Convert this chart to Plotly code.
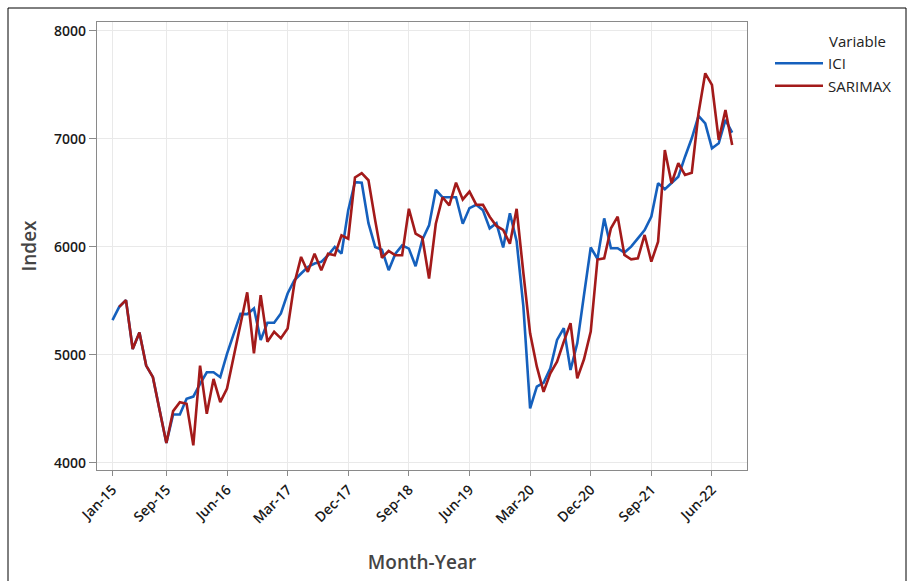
import pandas as pd
import plotly.graph_objects as go

# Monthly index values, Jan-2015 .. Sep-2022
months = pd.date_range("2015-01-01", "2022-09-01", freq="MS").strftime("%b-%y").tolist()

ici = [
    5323, 5446, 5508, 5055, 5209, 4902, 4794, 4486, 4185, 4449,
    4449, 4594, 4615, 4732, 4840, 4840, 4794, 5010, 5200, 5380,
    5378, 5431, 5138, 5298, 5298, 5385, 5569, 5692, 5754, 5815,
    5846, 5862, 5923, 6000, 5938, 6340, 6600, 6595, 6220, 6000,
    5975, 5785, 5938, 6015, 5985, 5822, 6068, 6200, 6529, 6460,
    6460, 6460, 6215, 6360, 6390, 6340, 6172, 6220, 5995, 6312,
    6053, 5449, 4505, 4706, 4743, 4876, 5139, 5248, 4861, 5108,
    5555, 5995, 5890, 6265, 5988, 5988, 5948, 6003, 6080, 6157,
    6281, 6590, 6534, 6590, 6651, 6836, 7006, 7213, 7145, 6914,
    6960, 7176, 7059,
]

sarimax = [
    None, 5446, 5508, 5055, 5209, 4902, 4794, 4486, 4185, 4480,
    4563, 4548, 4163, 4902, 4455, 4778, 4563, 4690, 4990, 5280,
    5580, 5015, 5554, 5123, 5215, 5154, 5246, 5662, 5908, 5769,
    5938, 5785, 5938, 5923, 6108, 6077, 6643, 6683, 6618, 6246,
    5900, 5963, 5923, 5923, 6354, 6123, 6086, 5708, 6215, 6460,
    6385, 6595, 6440, 6512, 6392, 6390, 6280, 6195, 6158, 6030,
    6353, 5759, 5201, 4892, 4659, 4830, 4938, 5124, 5294, 4783,
    4960, 5216, 5884, 5895, 6173, 6281, 5926, 5886, 5895, 6111,
    5864, 6049, 6898, 6590, 6775, 6667, 6688, 7238, 7608, 7500,
    6991, 7269, 6944,
]

tick_labels = ["Jan-15", "Sep-15", "Jun-16", "Mar-17", "Dec-17", "Sep-18",
               "Jun-19", "Mar-20", "Dec-20", "Sep-21", "Jun-22"]
y_ticks = [4000, 5000, 6000, 7000, 8000]

BLUE = "#1560BD"
RED = "#A31A1A"
FONT = "Open Sans"

fig = go.Figure()
fig.add_trace(go.Scatter(x=months, y=ici, mode="lines", name="ICI",
                         line=dict(color=BLUE, width=2.6)))
fig.add_trace(go.Scatter(x=months, y=sarimax, mode="lines", name="SARIMAX",
                         line=dict(color=RED, width=2.6)))

L, R, T, B = 97, 161, 22, 111
W, H = 908, 581
pw, ph = W - L - R, H - T - B

def px(x):
    return (x - L) / pw

def py(y):
    return (H - B - y) / ph

axis_common = dict(
    showline=True, linecolor="#8a8a8a", linewidth=1.3, mirror=True,
    showgrid=True, gridcolor="#e9e9e9", gridwidth=1,
    ticks="outside", tickcolor="#8a8a8a", tickwidth=1,
    zeroline=False,
)

fig.update_layout(
    width=W, height=H,
    margin=dict(l=L, r=R, t=T, b=B, autoexpand=False),
    paper_bgcolor="white", plot_bgcolor="white",
    font=dict(family=FONT, color="#222"),
    xaxis=dict(
        type="category", range=[-2.3, 94.2],
        tickvals=tick_labels, ticktext=tick_labels, tickangle=-45, ticklen=5,
        tickfont=dict(size=14, color="#1a1a1a", family=FONT, weight=600),
        title=dict(text="Month-Year", font=dict(size=19, color="#444", family=FONT, weight=600),
                   standoff=29),
        **axis_common,
    ),
    yaxis=dict(
        range=[3935, 8083], tickvals=y_ticks, ticklen=7,
        tickfont=dict(size=14, color="#1a1a1a", family=FONT, weight=600),
        title=dict(text="Index", font=dict(size=19, color="#444", family=FONT, weight=600),
                   standoff=12),
        **axis_common,
    ),
    legend=dict(
        x=px(770), y=py(47), xanchor="left", yanchor="top",
        font=dict(size=15, color="#222", family=FONT),
        bgcolor="rgba(0,0,0,0)", tracegroupgap=0, itemwidth=48,
    ),
    annotations=[dict(
        text="Variable", xref="paper", yref="paper", x=px(827), y=py(41),
        xanchor="left", yanchor="middle", showarrow=False,
        font=dict(size=15, color="#222", family=FONT),
    )],
    shapes=[dict(
        type="rect", xref="paper", yref="paper",
        x0=px(8), x1=px(906), y0=py(600), y1=py(8),
        line=dict(color="black", width=1), fillcolor="rgba(0,0,0,0)", layer="below",
    )],
)

fig.write_html("out.html")
